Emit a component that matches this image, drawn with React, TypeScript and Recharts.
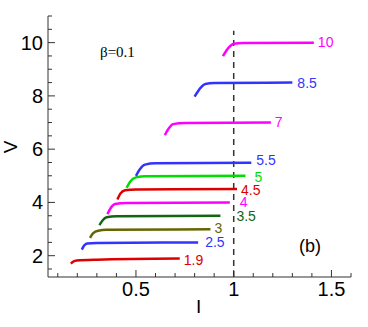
import { LineChart, Line, XAxis, YAxis, ReferenceLine } from "recharts";

// I-V curves, pairs of [I, V]
const c19 = [[0.167, 1.7], [0.18, 1.78], [0.197, 1.82], [0.3, 1.85], [0.724, 1.89]];
const c25 = [[0.223, 2.23], [0.235, 2.38], [0.25, 2.46], [0.3, 2.48], [0.818, 2.5]];
const c3 = [[0.265, 2.67], [0.28, 2.84], [0.307, 2.94], [0.35, 2.97], [0.881, 2.99]];
const c35 = [[0.313, 3.15], [0.33, 3.33], [0.35, 3.44], [0.4, 3.48], [0.932, 3.5]];
const c4 = [[0.354, 3.56], [0.37, 3.78], [0.393, 3.94], [0.45, 3.98], [0.98, 4.0]];
const c45 = [[0.405, 4.11], [0.42, 4.33], [0.444, 4.46], [0.5, 4.49], [1.017, 4.5]];
const c5 = [[0.452, 4.55], [0.47, 4.78], [0.5, 4.94], [0.55, 4.98], [1.06, 5.0]];
const c55 = [[0.5, 5.0], [0.52, 5.25], [0.546, 5.42], [0.6, 5.47], [1.09, 5.49]];
const c7 = [[0.648, 6.53], [0.67, 6.8], [0.69, 6.94], [0.75, 6.98], [1.19, 7.0]];
const c85 = [[0.8, 7.97], [0.83, 8.3], [0.855, 8.45], [0.9, 8.48], [1.3, 8.5]];
const c10 = [[0.945, 9.49], [0.975, 9.82], [1.0, 9.96], [1.05, 9.99], [1.41, 10.0]];

const curveData = [c19, c25, c3, c35, c4, c45, c5, c55, c7, c85, c10];
const curveLabels = ["1.9", "2.5", "3", "3.5", "4", "4.5", "5", "5.5", "7", "8.5", "10"];
const curveColors = ["#dd0000", "#3333ff", "#666600", "#116611", "#ff00ff", "#dd0000", "#00dd00", "#3333ff", "#ff00ff", "#3333ff", "#ff00ff"];
// pixel nudges for the end labels
const labelDx = [4, 7, 4, 16, 10, 4, 9, 5, 4, 5, 4];
const labelDy = [1, 0, -1, 0, 0, 1, 1, -3, -1, 0, -1];

const xTicks = [0.1, 0.2, 0.3, 0.4, 0.5, 0.6, 0.7, 0.8, 0.9, 1, 1.1, 1.2, 1.3, 1.4, 1.5, 1.6];
const yTicks = [1.5, 2, 2.5, 3, 3.5, 4, 4.5, 5, 5.5, 6, 6.5, 7, 7.5, 8, 8.5, 9, 9.5, 10, 10.5, 11];
const xLabeled = [0.5, 1, 1.5];
const yLabeled = [2, 4, 6, 8, 10];

const sans = "'Liberation Sans', Arial, sans-serif";
const axisColor = "#333";

const XTick = (props: any) => {
  const { x, y, payload } = props;
  const major = xLabeled.includes(payload.value);
  return (
    <g>
      <line x1={x} y1={y} x2={x} y2={y - (major ? 7 : 4)} stroke={axisColor} />
      {major && (
        <text x={x} y={y + 19} textAnchor="middle" fontSize={20} fontFamily={sans} fill="#000">
          {String(payload.value)}
        </text>
      )}
    </g>
  );
};

const YTick = (props: any) => {
  const { x, y, payload } = props;
  const major = yLabeled.includes(payload.value);
  return (
    <g>
      <line x1={x} y1={y} x2={x + (major ? 7 : 4)} y2={y} stroke={axisColor} />
      {major && (
        <text x={x - 5} y={y} textAnchor="end" dominantBaseline="central" fontSize={20} fontFamily={sans} fill="#000">
          {String(payload.value)}
        </text>
      )}
    </g>
  );
};

const endLabel = (k: number) => (props: any) => {
  const { x, y, index } = props;
  if (index !== curveData[k].length - 1) return null;
  return (
    <text
      key={`lab-${k}`}
      x={x + labelDx[k]}
      y={y + labelDy[k]}
      dominantBaseline="central"
      fontSize={14}
      fontFamily={sans}
      fill={curveColors[k]}
    >
      {curveLabels[k]}
    </text>
  );
};

export default function App() {
  return (
    <div style={{ position: "absolute", left: 0, top: 0, width: 368, height: 327, background: "#fff" }}>
      <LineChart width={368} height={327} margin={{ top: 16, right: 17, bottom: 0, left: 0 }}>
        <XAxis
          type="number"
          dataKey="i"
          domain={[0.05, 1.6]}
          ticks={xTicks}
          interval={0}
          tickSize={0}
          tickMargin={0}
          tick={<XTick />}
          height={50}
          stroke={axisColor}
          allowDataOverflow
        />
        <YAxis
          type="number"
          dataKey="v"
          domain={[1.2, 11]}
          ticks={yTicks}
          interval={0}
          tickSize={0}
          tickMargin={0}
          tick={<YTick />}
          width={48}
          stroke={axisColor}
          allowDataOverflow
        />
        <ReferenceLine
          segment={[{ x: 1, y: 1.2 }, { x: 1, y: 10.45 }]}
          stroke="#333"
          strokeWidth={1.5}
          strokeDasharray="6 5"
        />
        {curveData.map((pts, k) => (
          <Line
            key={curveLabels[k]}
            data={pts.map(([i, v]) => ({ i, v }))}
            dataKey="v"
            type="monotone"
            stroke={curveColors[k]}
            strokeWidth={2.5}
            dot={false}
            activeDot={false}
            label={endLabel(k)}
            isAnimationActive={false}
          />
        ))}
      </LineChart>
      <div style={{ position: "absolute", left: 100, top: 42, fontFamily: "'Liberation Serif', 'Times New Roman', serif", fontSize: 15, lineHeight: "20px" }}>
        β=0.1
      </div>
      <div style={{ position: "absolute", left: 299, top: 235, fontFamily: sans, fontSize: 18, lineHeight: "22px" }}>
        (b)
      </div>
      <div style={{ position: "absolute", left: 196, top: 296, fontFamily: sans, fontSize: 19, lineHeight: "22px" }}>
        I
      </div>
      <div
        style={{
          position: "absolute",
          left: 0,
          top: 136,
          width: 22,
          height: 22,
          fontFamily: sans,
          fontSize: 19,
          lineHeight: "22px",
          textAlign: "center",
          transform: "rotate(-90deg)",
        }}
      >
        V
      </div>
    </div>
  );
}
